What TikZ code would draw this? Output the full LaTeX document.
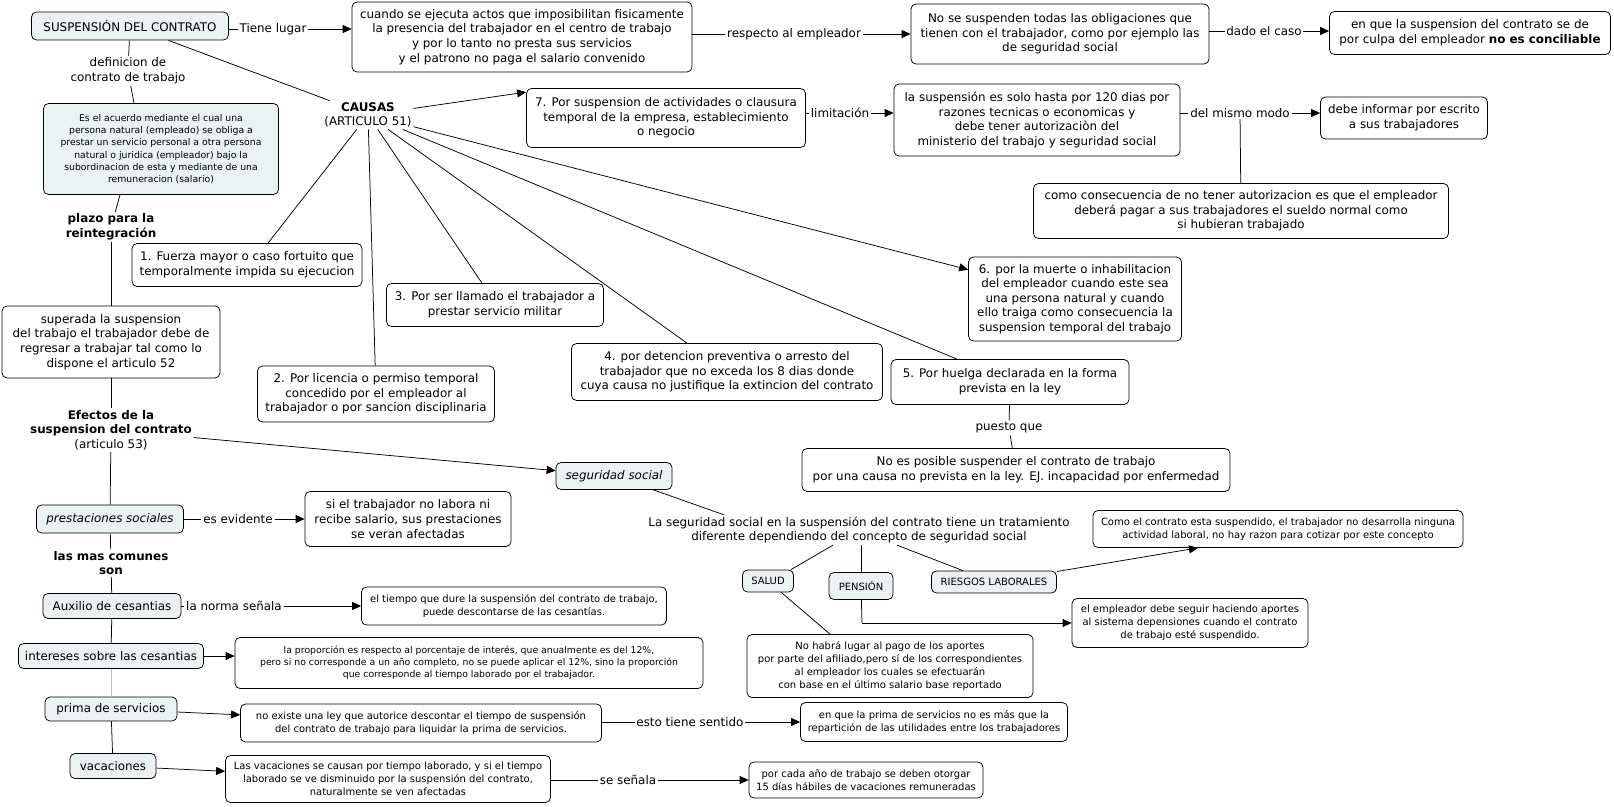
\documentclass[tikz,border=0pt]{standalone}
\usepackage{fontspec}
\setmainfont{DejaVu Sans}
\usepackage{tikz}
\usetikzlibrary{arrows.meta}
\definecolor{cmapfill}{RGB}{235,242,244}
\newcommand\maintext{\fontsize{11.9}{14.6}\selectfont}
\newcommand\smalltext{\fontsize{10}{12.8}\selectfont}
\newcommand\tinytext{\fontsize{9.3}{12.2}\selectfont}
\tikzset{
  concept/.style={draw, rounded corners=5pt, fill=white, align=center, inner sep=2pt, font=\maintext},
  shaded/.style={concept, fill=cmapfill},
  smallfont/.style={font=\smalltext},
  tinyfont/.style={font=\tinytext},
  phrase/.style={inner sep=1.5pt, align=center, font=\maintext},
  boxsize/.style n args={2}{minimum width=#1pt, minimum height=#2pt},
}

\begin{document}
\begin{tikzpicture}[x=1pt,y=-1pt,>={Triangle[length=9pt,width=8pt]},line width=0.75pt]
\useasboundingbox (0,0) rectangle (1614,806);

\node[shaded,boxsize={197}{28}] (susp) at (130,26) {SUSPENSIÓN DEL CONTRATO};
\node[concept,boxsize={340}{70}] (cuando) at (522,37) {cuando se ejecuta actos que imposibilitan fisicamente\\la presencia del trabajador en el centro de trabajo\\y por lo tanto no presta sus servicios\\y el patrono no paga el salario convenido};
\node[concept,boxsize={298}{60}] (nosusp) at (1060,34) {No se suspenden todas las obligaciones que\\tienen con el trabajador, como por ejemplo las\\de seguridad social};
\node[concept,boxsize={281}{43}] (concil) at (1470,33) {en que la suspension del contrato se de\\por culpa del empleador \textbf{no es conciliable}};
\node[concept,boxsize={279}{59}] (box7) at (666,118) {7. Por suspension de actividades o clausura\\temporal de la empresa, establecimiento\\o negocio};
\node[concept,boxsize={286}{72}] (limit) at (1037,120) {la suspensión es solo hasta por 120 dias por\\razones tecnicas o economicas y\\debe tener autorizaciòn del\\ministerio del trabajo y seguridad social};
\node[concept,boxsize={167}{42}] (informar) at (1404,118) {debe informar por escrito\\a sus trabajadores};
\node[concept,boxsize={415}{55}] (consec) at (1241,211) {como consecuencia de no tener autorizacion es que el empleador\\deberá pagar a sus trabajadores el sueldo normal como\\si hubieran trabajado};
\node[concept,boxsize={213}{84}] (box6) at (1075,299) {6. por la muerte o inhabilitacion\\del empleador cuando este sea\\una persona natural y cuando\\ello traiga como consecuencia la\\suspension temporal del trabajo};
\node[concept,boxsize={230}{43}] (box1) at (247,265) {1. Fuerza mayor o caso fortuito que\\temporalmente impida su ejecucion};
\node[concept,boxsize={217}{43}] (box3) at (495,305) {3. Por ser llamado el trabajador a\\prestar servicio militar};
\node[concept,boxsize={237}{56}] (box2) at (376,394) {2. Por licencia o permiso temporal\\concedido por el empleador al\\trabajador o por sancion disciplinaria};
\node[concept,boxsize={311}{57}] (box4) at (727,372) {4. por detencion preventiva o arresto del\\trabajador que no exceda los 8 dias donde\\cuya causa no justifique la extincion del contrato};
\node[concept,boxsize={238}{45}] (box5) at (1010,382) {5. Por huelga declarada en la forma\\prevista en la ley};
\node[concept,boxsize={428}{43}] (noposible) at (1016,470) {No es posible suspender el contrato de trabajo\\por una causa no prevista en la ley. EJ. incapacidad por enfermedad};
\node[concept,boxsize={218}{72}] (superada) at (111,342) {superada la suspension\\del trabajo el trabajador debe de\\regresar a trabajar tal como lo\\dispone el articulo 52};
\node[shaded,tinyfont,boxsize={235}{91}] (def) at (161,149) {Es el acuerdo mediante el cual una\\persona natural (empleado) se obliga a\\prestar un servicio personal a otra persona\\natural o juridica (empleador) bajo la\\subordinacion de esta y mediante de una\\remuneracion (salario)};
\node[shaded,boxsize={116}{27}] (segsoc) at (614,476) {\textit{seguridad social}};
\node[phrase] (laseg) at (859,530) {La seguridad social en la suspensión del contrato tiene un tratamiento\\diferente dependiendo del concepto de seguridad social};
\node[concept,smallfont,boxsize={370}{37}] (comocont) at (1278,529) {Como el contrato esta suspendido, el trabajador no desarrolla ninguna\\actividad laboral, no hay razon para cotizar por este concepto};
\node[shaded,smallfont,boxsize={51}{22}] (salud) at (768,581) {SALUD};
\node[shaded,smallfont,boxsize={64}{27}] (pension) at (861,586) {PENSIÓN};
\node[shaded,smallfont,boxsize={125}{22}] (riesgos) at (994,582) {RIESGOS LABORALES};
\node[concept,smallfont,boxsize={236}{49}] (aportes) at (1190,623) {el empleador debe seguir haciendo aportes\\al sistema depensiones cuando el contrato\\de trabajo esté suspendido.};
\node[concept,smallfont,boxsize={286}{63}] (nohabra) at (890,666) {No habrá lugar al pago de los aportes\\por parte del afiliado,pero sí de los correspondientes\\al empleador los cuales se efectuarán\\con base en el último salario base reportado};
\node[shaded,boxsize={147}{28}] (prest) at (110,519) {\textit{prestaciones sociales}};
\node[concept,boxsize={206}{55}] (siel) at (408,519) {si el trabajador no labora ni\\recibe salario, sus prestaciones\\se veran afectadas};
\node[shaded,boxsize={138}{25}] (auxilio) at (112,606) {Auxilio de cesantias};
\node[concept,smallfont,boxsize={305}{38}] (eltiempo) at (514,606) {el tiempo que dure la suspensión del contrato de trabajo,\\puede descontarse de las cesantías.};
\node[shaded,boxsize={185}{25}] (intereses) at (111,656) {intereses sobre las cesantias};
\node[concept,tinyfont,boxsize={468}{51}] (laprop) at (469,663) {la proporción es respecto al porcentaje de interés, que anualmente es del 12\%,\\pero si no corresponde a un año completo, no se puede aplicar el 12\%, sino la proporción\\que corresponde al tiempo laborado por el trabajador.};
\node[shaded,boxsize={132}{24}] (prima) at (111,709) {prima de servicios};
\node[concept,smallfont,boxsize={361}{38}] (noexiste) at (421,723) {no existe una ley que autorice descontar el tiempo de suspensión\\del contrato de trabajo para liquidar la prima de servicios.};
\node[concept,smallfont,boxsize={267}{39}] (enqueprima) at (934,722) {en que la prima de servicios no es más que la\\repartición de las utilidades entre los trabajadores};
\node[shaded,boxsize={86}{25}] (vacaciones) at (113,766) {vacaciones};
\node[concept,smallfont,boxsize={325}{47}] (lasvac) at (388,779) {Las vacaciones se causan por tiempo laborado, y si el tiempo\\laborado se ve disminuido por la suspensión del contrato,\\naturalmente se ven afectadas};
\node[concept,smallfont,boxsize={234}{36}] (quince) at (866,780) {por cada año de trabajo se deben otorgar\\15 días hábiles de vacaciones remuneradas};

\node[phrase] (tiene) at (273,29) {Tiene lugar};
\node[phrase] (respecto) at (794,34) {respecto al empleador};
\node[phrase] (dado) at (1264,31) {dado el caso};
\node[phrase] (limitacion) at (840,113) {limitación};
\node[phrase] (mismo) at (1240,113) {del mismo modo};
\node[phrase] (defin) at (128,71) {definicion de\\contrato de trabajo};
\node[phrase] (causas) at (368,115) {\textbf{CAUSAS}\\(ARTICULO 51)};
\node[phrase] (plazo) at (111,227) {\textbf{plazo para la}\\\textbf{reintegración}};
\node[phrase] (efectos) at (111,430) {\textbf{Efectos de la}\\\textbf{suspension del contrato}\\(articulo 53)};
\node[phrase] (evidente) at (238,519) {es evidente};
\node[phrase] (comunes) at (111,563) {\textbf{las mas comunes}\\\textbf{son}};
\node[phrase] (norma) at (234,606) {la norma señala};
\node[phrase] (sentido) at (690,722) {esto tiene sentido};
\node[phrase] (senala) at (628,780) {se señala};
\node[phrase] (puesto) at (1009,428) {puesto que};
\coordinate (penlink) at (862,623);

\draw (tiene -| susp.east) -- (tiene);
\draw[->] (tiene) -- (tiene -| cuando.west);
\draw (respecto -| cuando.east) -- (respecto);
\draw[->] (respecto) -- (respecto -| nosusp.west);
\draw (dado -| nosusp.east) -- (dado);
\draw[->] (dado) -- (dado -| concil.west);
\draw (limitacion -| box7.east) -- (limitacion);
\draw[->] (limitacion) -- (limitacion -| limit.west);
\draw (mismo -| limit.east) -- (mismo);
\draw[->] (mismo) -- (mismo -| informar.west);
\draw (mismo) -- (consec);
\draw (susp) -- (defin);
\draw (defin) -- ([xshift=-27pt]def.north);
\draw ([xshift=-41pt]def.south) -- (plazo);
\draw (plazo) -- (superada);
\draw (superada) -- (efectos);
\draw (susp) -- (causas);
\draw[->] (causas) -- ([yshift=-4pt]box7.north west);
\draw (causas) -- ([xshift=21pt]box1.north);
\draw (causas) -- (box2);
\draw (causas) -- ([xshift=-13pt]box3.north);
\draw (causas) -- ([xshift=-40pt]box4.north);
\draw (causas) -- ([xshift=-53pt]box5.north);
\draw[->] (causas) -- ([yshift=-13pt]box6.north west);
\draw (box5) -- (puesto);
\draw (puesto) -- (noposible);
\draw[->] (efectos) -- (segsoc);
\draw (segsoc) -- ([xshift=-135pt]laseg.north);
\draw ([xshift=-26pt]laseg.south) -- ([xshift=-3pt]salud.north east);
\draw (pension |- laseg.south) -- (pension);
\draw ([xshift=38pt]laseg.south) -- ([xshift=-31pt]riesgos.north);
\draw[->] (riesgos) -- ([xshift=-80pt]comocont.south);
\draw (salud) -- ([xshift=-60pt]nohabra.north);
\draw (pension) -- (penlink);
\draw[->] (penlink) -- (penlink -| aportes.west);
\draw (efectos) -- (prest);
\draw (evidente -| prest.east) -- (evidente);
\draw[->] (evidente) -- (evidente -| siel.west);
\draw (prest) -- (comunes);
\draw (comunes) -- (auxilio);
\draw (norma -| auxilio.east) -- (norma);
\draw[->] (norma) -- (norma -| eltiempo.west);
\draw (auxilio) -- (intereses);
\draw[->] (intereses) -- (intereses -| laprop.west);
\draw[black!25] (intereses) -- (prima);
\draw[->] (prima) -- (noexiste);
\draw (sentido -| noexiste.east) -- (sentido);
\draw[->] (sentido) -- (sentido -| enqueprima.west);
\draw (prima) -- (vacaciones);
\draw[->] (vacaciones) -- (lasvac);
\draw (senala -| lasvac.east) -- (senala);
\draw[->] (senala) -- (senala -| quince.west);
\end{tikzpicture}
\end{document}
